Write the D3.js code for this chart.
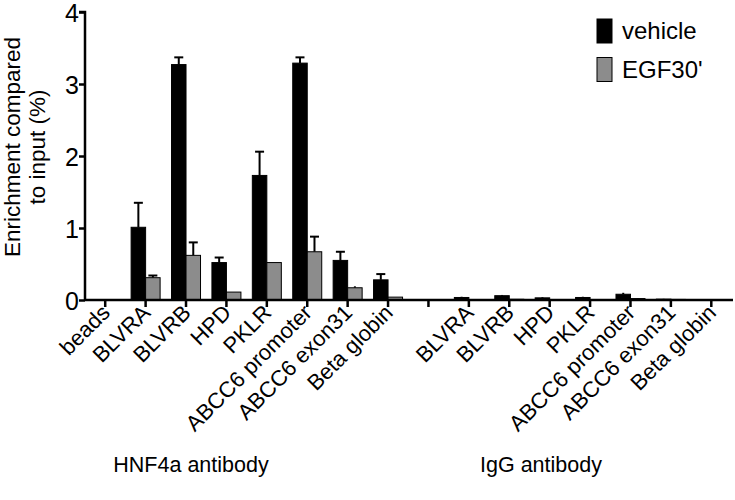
<!DOCTYPE html>
<html>
<head>
<meta charset="utf-8">
<script src="https://cdn.jsdelivr.net/npm/d3@7"></script>
<style>
body { margin: 0; background: #fff; }
text { font-family: "Liberation Sans", Arial, sans-serif; fill: #000; }
</style>
</head>
<body>
<svg width="735" height="500"></svg>
<script>
// categories (the 9th slot is an unlabelled IgG beads column)
var labels = ["beads","BLVRA","BLVRB","HPD","PKLR","ABCC6 promoter","ABCC6 exon31","Beta globin",
	"","BLVRA","BLVRB","HPD","PKLR","ABCC6 promoter","ABCC6 exon31","Beta globin"]
var vehicle    = [0, 1.01, 3.27, 0.52, 1.73, 3.29, 0.55, 0.28,   0, 0.035, 0.06, 0.03, 0.035, 0.08, 0.012, 0.004]
var vehicleErr = [0, 0.34, 0.10, 0.07, 0.33, 0.08, 0.12, 0.08,   0, 0.01, 0.01, 0.01, 0.01, 0.02, 0.004, 0.002]
var egf        = [0, 0.31, 0.62, 0.11, 0.52, 0.67, 0.17, 0.04,   0, 0.006, 0.01, 0.006, 0.006, 0.02, 0.008, 0.002]
var egfErr     = [0, 0.03, 0.18, 0.0,  0.0,  0.21, 0.02, 0.0,    0, 0.002, 0.003, 0.002, 0.002, 0.005, 0.002, 0.001]
var yTicks = [0, 1, 2, 3, 4]
var groups = ["HNF4a antibody", "IgG antibody"]
var series = ["vehicle", "EGF30'"]
var colors = ["#000000", "#8c8c8c"]

var svg = d3.select("svg")
var idx = d3.range(labels.length)

var x = d3.scaleBand().domain(idx).range([85, 731.5]).padding(0)
var y = d3.scaleLinear().domain([0, 4]).range([300, 12])
var bw = 14.5

function drawBars(vals, errs, off, color) {
	var g = svg.append("g")
	// error bars (upward only)
	g.selectAll("line.err").data(idx.filter(i => errs[i] > 0)).enter().append("line")
		.attr("x1", i => x(i) + x.bandwidth()/2 + off + bw/2)
		.attr("x2", i => x(i) + x.bandwidth()/2 + off + bw/2)
		.attr("y1", i => y(vals[i]))
		.attr("y2", i => y(vals[i] + errs[i]))
		.attr("stroke", "#000").attr("stroke-width", 2)
	g.selectAll("line.cap").data(idx.filter(i => errs[i] > 0.02)).enter().append("line")
		.attr("x1", i => x(i) + x.bandwidth()/2 + off + bw/2 - 4.5)
		.attr("x2", i => x(i) + x.bandwidth()/2 + off + bw/2 + 4.5)
		.attr("y1", i => y(vals[i] + errs[i]))
		.attr("y2", i => y(vals[i] + errs[i]))
		.attr("stroke", "#000").attr("stroke-width", 2)
	g.selectAll("rect").data(idx.filter(i => vals[i] > 0)).enter().append("rect")
		.attr("x", i => x(i) + x.bandwidth()/2 + off)
		.attr("y", i => y(vals[i]))
		.attr("width", bw)
		.attr("height", i => y(0) - y(vals[i]))
		.attr("fill", color)
		.attr("stroke", "#000").attr("stroke-width", 1)
}
drawBars(vehicle, vehicleErr, -bw, colors[0])
drawBars(egf, egfErr, 0, colors[1])

// y axis
var yAxis = svg.append("g").attr("transform", "translate(85,0)")
	.call(d3.axisLeft(y).tickValues(yTicks).tickSize(6).tickFormat(d3.format("d")))
yAxis.select(".domain").attr("stroke-width", 2.5).attr("d", "M-6," + y(4) + "H0V" + y(0))
yAxis.selectAll(".tick line").attr("stroke-width", 2.5)
yAxis.selectAll(".tick text").attr("font-size", 25).attr("x", -6).attr("dy", "0.36em")
	.style("font-family", "Liberation Sans, Arial, sans-serif")

// x axis
var xAxis = svg.append("g").attr("transform", "translate(0," + y(0) + ")")
	.call(d3.axisBottom(x).tickSize(7).tickFormat(i => labels[i]))
xAxis.select(".domain").attr("stroke-width", 2.5).attr("d", "M85,0H733")
xAxis.selectAll(".tick line").attr("stroke-width", 2.5)
xAxis.selectAll(".tick text")
	.attr("font-size", 22)
	.style("font-family", "Liberation Sans, Arial, sans-serif")
	.attr("text-anchor", "end")
	.attr("dy", 0).attr("x", 0).attr("y", 0)
	.attr("transform", "translate(6,14) rotate(-45)")

// y title
var yt = svg.append("text")
	.attr("transform", "translate(20,147) rotate(-90)")
	.attr("text-anchor", "middle")
	.attr("font-size", 22.5)
yt.append("tspan").attr("x", 0).attr("dy", 0).text("Enrichment compared")
yt.append("tspan").attr("x", 0).attr("dy", 25).text("to input (%)")

// group labels (set under the label block, left of each group's centre)
var groupX = [191, 541]
svg.selectAll("text.grp").data(groups).enter().append("text")
	.attr("class", "grp")
	.attr("x", (d, i) => groupX[i])
	.attr("y", 472)
	.attr("text-anchor", "middle")
	.attr("font-size", 21.5)
	.text(d => d)

// legend
var leg = svg.selectAll("g.leg").data(series).enter().append("g")
	.attr("transform", (d, i) => "translate(597," + (19 + i * 38.5) + ")")
leg.append("rect").attr("width", 15).attr("height", 24)
	.attr("fill", (d, i) => colors[i]).attr("stroke", "#000").attr("stroke-width", 1)
leg.append("text").attr("x", 25).attr("y", 20).attr("font-size", 24).text(d => d)
</script>
</body>
</html>
